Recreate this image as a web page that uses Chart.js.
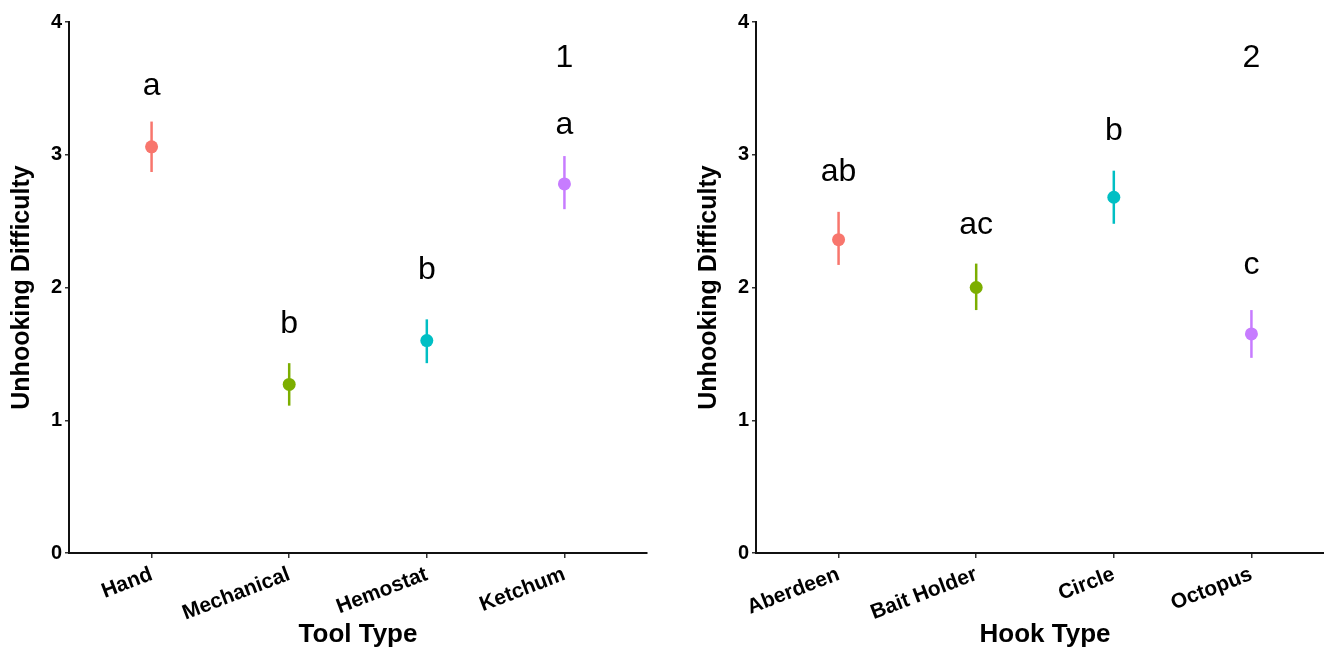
<!DOCTYPE html>
<html>
<head>
<meta charset="utf-8">
<script src="https://cdn.jsdelivr.net/npm/chart.js@4.4.1/dist/chart.umd.min.js"></script>
<style>
html,body{margin:0;padding:0;background:#fff;}
#wrap{position:relative;width:1324px;height:648px;overflow:hidden;}
canvas{position:absolute;top:0;}
#c1{left:0;}
#c2{left:662px;}
</style>
</head>
<body>
<div id="wrap">
<canvas id="c1" width="662" height="648"></canvas>
<canvas id="c2" width="687" height="648"></canvas>
</div>
<script>
// ---- panel 1: tool type ----
const toolTypes = ["Hand", "Mechanical", "Hemostat", "Ketchum"];
const toolMean = [3.06, 1.27, 1.60, 2.78];
const toolLow = [2.87, 1.11, 1.43, 2.59];
const toolHigh = [3.25, 1.43, 1.76, 2.99];
const toolLetters = ["a", "b", "b", "a"];
const toolLetterY = [3.52, 1.72, 2.13, 3.22];

// ---- panel 2: hook type ----
const hookTypes = ["Aberdeen", "Bait Holder", "Circle", "Octopus"];
const hookMean = [2.36, 2.00, 2.68, 1.65];
const hookLow = [2.17, 1.83, 2.48, 1.47];
const hookHigh = [2.57, 2.18, 2.88, 1.83];
const hookLetters = ["ab", "ac", "b", "c"];
const hookLetterY = [2.87, 2.47, 3.18, 2.17];

const yTicks = [0, 1, 2, 3, 4];
const panelLabelY = 3.73;
const colors = ["#F8766D", "#7CAE00", "#00BFC4", "#C77CFF"];

const FONT = "'Liberation Sans', Arial, sans-serif";

function makeChart(id, cats, mean, low, high, letters, letterY, panel, xTitle, padLeft) {

    let datasets = [];

    // means
    datasets.push({
        type: "scatter",
        data: cats.map(function(c, i){ return {x: i + 1, y: mean[i]}; }),
        pointRadius: 6.5,
        pointHoverRadius: 6.5,
        pointBackgroundColor: colors,
        pointBorderWidth: 0,
        order: 0
    });

    // error bars
    cats.forEach(function(c, i){
        datasets.push({
            type: "line",
            data: [{x: i + 1, y: low[i]}, {x: i + 1, y: high[i]}],
            borderColor: colors[i],
            borderWidth: 2.5,
            pointRadius: 0,
            fill: false,
            order: 1
        });
    });

    const letterPlugin = {
        id: "letters" + id,
        afterDatasetsDraw: function(chart){
            const ctx = chart.ctx;
            const xs = chart.scales.x;
            const ys = chart.scales.y;
            ctx.save();
            ctx.fillStyle = "#000";
            ctx.font = "32px " + FONT;
            ctx.textAlign = "center";
            ctx.textBaseline = "middle";
            letters.forEach(function(l, i){
                ctx.fillText(l, xs.getPixelForValue(i + 1), ys.getPixelForValue(letterY[i]));
            });
            ctx.fillText(panel, xs.getPixelForValue(cats.length), ys.getPixelForValue(panelLabelY));
            ctx.restore();
        }
    };

    return new Chart(document.getElementById(id), {
        data: {datasets: datasets},
        plugins: [letterPlugin],
        options: {
            responsive: false,
            animation: false,
            layout: {padding: {top: 22, right: 15, left: padLeft, bottom: 0}},
            plugins: {legend: {display: false}, tooltip: {enabled: false}},
            scales: {
                x: {
                    type: "linear",
                    min: 0.4,
                    max: cats.length + 0.6,
                    afterBuildTicks: function(scale){
                        scale.ticks = cats.map(function(c, i){ return {value: i + 1}; });
                    },
                    afterFit: function(scale){ scale.height = 95; },
                    ticks: {
                        autoSkip: false,
                        minRotation: 21,
                        maxRotation: 21,
                        padding: 4,
                        color: "#000",
                        font: {family: FONT, size: 21, weight: "bold"},
                        callback: function(v){ return cats[v - 1]; }
                    },
                    grid: {drawOnChartArea: false, drawTicks: true, tickLength: 5, color: "#333", lineWidth: 1.5},
                    border: {display: true, color: "#111", width: 2},
                    title: {
                        display: true,
                        text: xTitle,
                        color: "#000",
                        padding: {top: 0, bottom: 0},
                        font: {family: FONT, size: 26, weight: "bold", lineHeight: 1}
                    }
                },
                y: {
                    min: 0,
                    max: 4,
                    afterBuildTicks: function(scale){
                        scale.ticks = yTicks.map(function(v){ return {value: v}; });
                    },
                    afterFit: function(scale){ scale.width = 69; },
                    ticks: {
                        padding: 3,
                        color: "#000",
                        font: {family: FONT, size: 20, weight: "bold"}
                    },
                    grid: {drawOnChartArea: false, drawTicks: true, tickLength: 4, color: "#333", lineWidth: 1.5},
                    border: {display: true, color: "#111", width: 2},
                    title: {
                        display: true,
                        text: "Unhooking Difficulty",
                        color: "#000",
                        padding: {top: 10, bottom: 0},
                        font: {family: FONT, size: 25, weight: "bold", lineHeight: 1}
                    }
                }
            }
        }
    });
}

makeChart("c1", toolTypes, toolMean, toolLow, toolHigh, toolLetters, toolLetterY, "1", "Tool Type", 0);
makeChart("c2", hookTypes, hookMean, hookLow, hookHigh, hookLetters, hookLetterY, "2", "Hook Type", 25);
</script>
</body>
</html>
